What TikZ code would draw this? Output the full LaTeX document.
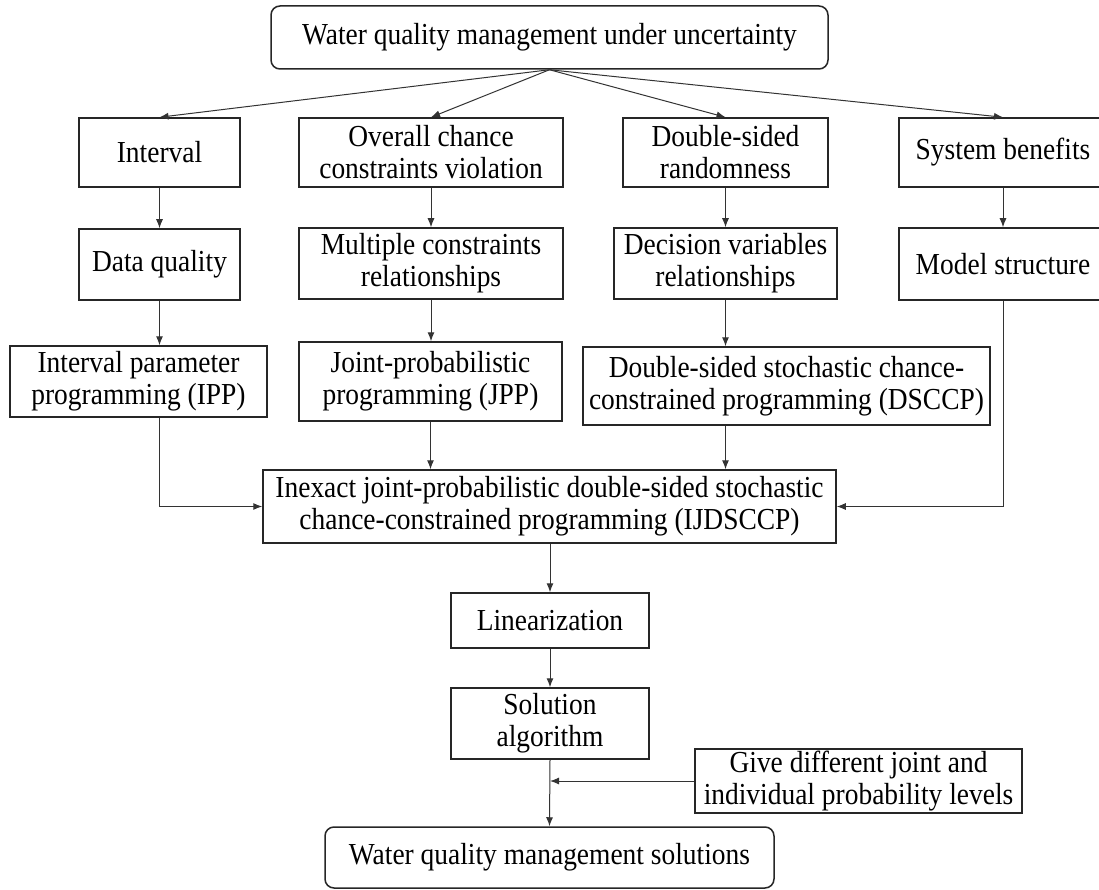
\documentclass[tikz,border=0pt]{standalone}
\usepackage{fontspec}
\setmainfont{Liberation Serif}[FakeStretch=0.9]
\usetikzlibrary{arrows.meta}
\begin{document}
\begin{tikzpicture}[x=1pt,y=-1pt,
  box/.style={draw=black!85, line width=1.5pt, align=center, inner sep=0pt,
    font=\fontsize{30.5}{32}\selectfont},
  rbox/.style={box, rounded corners=9pt},
  conn/.style={draw=black!80, line width=1pt, -{Latex[length=9pt,width=7pt]}},
  plain/.style={draw=black!80, line width=1pt}]
\useasboundingbox (0,0) rectangle (1099,890);
\node[rbox, minimum width=557pt, minimum height=63pt] (top) at (549.5,37.5) {Water quality management under uncertainty};
\node[box, minimum width=161pt, minimum height=69pt] (interval) at (159.5,152.5) {Interval};
\node[box, minimum width=264pt, minimum height=69pt] (overall) at (431,152.5) {Overall chance\\constraints violation};
\node[box, minimum width=205pt, minimum height=69pt] (dsr) at (725.5,152.5) {Double-sided\\randomness};
\node[box, minimum width=208pt, minimum height=69pt] (sysben) at (1003,152.5) {System benefits};
\node[box, minimum width=161pt, minimum height=71pt] (dataq) at (159.5,264.5) {Data quality};
\node[box, minimum width=264pt, minimum height=71pt] (multi) at (431,263.5) {Multiple constraints\\relationships};
\node[box, minimum width=223pt, minimum height=71pt] (decvar) at (725.5,263.5) {Decision variables\\relationships};
\node[box, minimum width=208pt, minimum height=72pt] (model) at (1003,264) {Model structure};
\node[box, minimum width=257pt, minimum height=71pt] (ipp) at (138.5,381.5) {Interval parameter\\programming (IPP)};
\node[box, minimum width=263pt, minimum height=79pt] (jpp) at (430.5,381.5) {Joint-probabilistic\\programming (JPP)};
\node[box, minimum width=407pt, minimum height=78pt] (dsccp) at (786.5,386) {Double-sided stochastic chance-\\constrained programming (DSCCP)};
\node[box, minimum width=573pt, minimum height=73pt] (ij) at (549.5,506.5) {Inexact joint-probabilistic double-sided stochastic\\chance-constrained programming (IJDSCCP)};
\node[box, minimum width=198pt, minimum height=55pt] (lin) at (550,620.5) {Linearization};
\node[box, minimum width=198pt, minimum height=71pt] (sol) at (550,723.5) {Solution\\algorithm};
\node[box, minimum width=327pt, minimum height=64pt] (give) at (858.5,781) {Give different joint and\\individual probability levels};
\node[rbox, minimum width=449pt, minimum height=61pt] (bottom) at (549.5,857.5) {Water quality management solutions};
% top fan
\draw[conn] (top.south) -- (interval.north);
\draw[conn] (top.south) -- (overall.north);
\draw[conn] (top.south) -- (dsr.north);
\draw[conn] (top.south) -- (sysben.north);
% columns
\draw[conn] (interval.south) -- (dataq.north);
\draw[conn] (overall.south) -- (multi.north);
\draw[conn] (dsr.south) -- (decvar.north);
\draw[conn] (sysben.south) -- (model.north);
\draw[conn] (dataq.south) -- (dataq.south |- ipp.north);
\draw[conn] (multi.south) -- (multi.south |- jpp.north);
\draw[conn] (decvar.south) -- (decvar.south |- dsccp.north);
\draw[conn] (jpp.south) -- (jpp.south |- ij.north);
\draw[conn] (dsccp.south -| decvar.south) -- (decvar.south |- ij.north);
\draw[conn] (ipp.south -| dataq.south) |- (ij.west);
\draw[conn] (model.south) |- (ij.east);
% bottom chain
\draw[conn] (ij.south -| lin.north) -- (lin.north);
\draw[conn] (lin.south) -- (sol.north);
\draw[conn] (sol.south) -- (bottom.north);
\draw[conn] (give.west) -- (sol.south |- give.west);
\end{tikzpicture}
\end{document}
